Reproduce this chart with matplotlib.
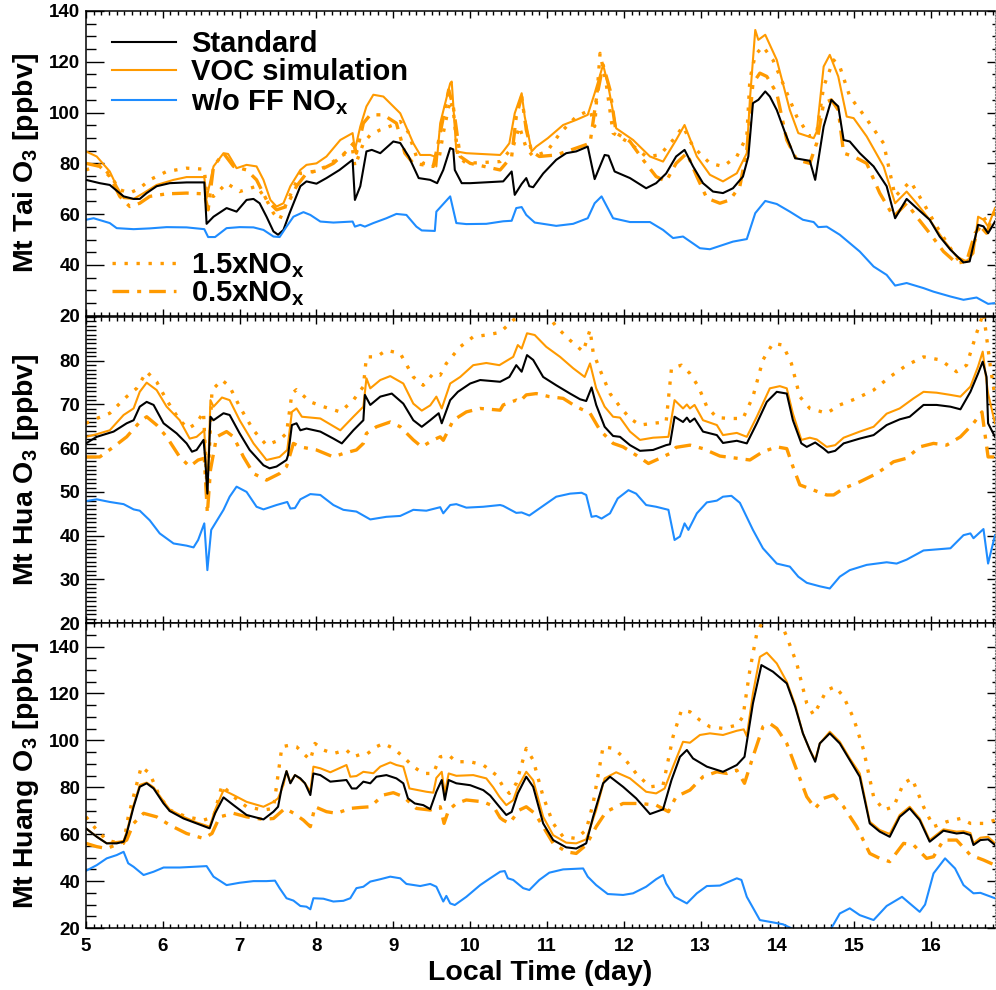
import matplotlib
matplotlib.use("Agg")
from matplotlib import pyplot as plt
from matplotlib.ticker import MultipleLocator
import numpy as np

plt.rcParams['font.family'] = ['Liberation Sans', 'DejaVu Sans']
plt.rcParams['font.weight'] = 'bold'
plt.rcParams['mathtext.fontset'] = 'custom'
plt.rcParams['mathtext.rm'] = 'Liberation Sans'
plt.rcParams['mathtext.bf'] = 'Liberation Sans:bold'

ORANGE = '#FF9A00'
BLUE = '#1E8CFF'

# ---- data: (day, O3 ppbv) ----
# Mt Tai
tai_std = [(5.00,73.5),(5.18,72.2),(5.31,71.5),(5.49,67.0),(5.62,66.0),(5.70,66.0),(5.79,68.3),(5.92,71.0),(6.09,72.2),(6.31,72.5),(6.54,72.5),(6.57,56.2),(6.66,59.0),(6.83,62.4),(6.96,61.0),(7.09,65.6),(7.18,66.0),(7.26,64.3),(7.35,59.0),(7.44,53.2),(7.50,51.9),(7.57,53.8),(7.65,60.4),(7.79,71.0),(7.87,72.9),(8.00,72.0),(8.13,74.2),(8.30,77.4),(8.47,81.4),(8.50,65.6),(8.57,71.0),(8.65,84.7),(8.72,85.3),(8.83,84.0),(9.00,88.6),(9.09,88.0),(9.20,82.7),(9.33,74.2),(9.48,73.5),(9.57,72.2),(9.65,77.4),(9.74,86.0),(9.78,85.5),(9.80,77.4),(9.89,72.2),(10.0,72.2),(10.43,72.9),(10.54,76.8),(10.58,67.6),(10.67,71.9),(10.73,74.2),(10.77,71.0),(10.82,70.6),(10.95,76.0),(11.12,81.4),(11.25,84.0),(11.38,84.7),(11.53,86.6),(11.62,73.8),(11.75,83.3),(11.80,83.0),(11.88,76.8),(12.08,74.2),(12.29,70.2),(12.42,72.2),(12.55,76.0),(12.68,82.7),(12.79,85.3),(12.90,78.8),(13.03,72.2),(13.16,68.9),(13.29,68.3),(13.42,70.2),(13.55,74.8),(13.62,82.7),(13.68,103.7),(13.75,105.0),(13.84,108.3),(13.90,106.3),(13.99,101.0),(14.10,91.9),(14.23,82.0),(14.42,81.0),(14.49,73.5),(14.60,94.5),(14.70,105.0),(14.79,102.4),(14.86,89.2),(14.94,88.6),(15.07,84.0),(15.25,78.8),(15.42,71.0),(15.53,58.4),(15.68,66.0),(15.81,62.4),(15.98,57.8),(16.11,51.2),(16.25,46.0),(16.42,41.0),(16.50,41.4),(16.61,55.8),(16.68,55.2),(16.74,52.5),(16.83,57.1)]
tai_voc = [(5.00,84.7),(5.14,82.7),(5.31,76.8),(5.40,71.0),(5.49,66.3),(5.62,66.0),(5.75,68.3),(5.92,71.5),(6.14,73.5),(6.31,74.6),(6.54,74.6),(6.57,66.3),(6.66,78.8),(6.79,84.0),(6.85,83.7),(6.96,78.1),(7.09,79.4),(7.22,78.8),(7.31,73.5),(7.40,65.6),(7.48,63.0),(7.57,64.3),(7.66,71.0),(7.79,77.4),(7.87,79.4),(8.00,80.0),(8.13,82.7),(8.31,89.2),(8.47,91.9),(8.50,85.3),(8.57,94.5),(8.65,102.4),(8.74,107.0),(8.87,106.3),(9.09,99.7),(9.26,87.9),(9.35,83.3),(9.48,83.3),(9.54,82.7),(9.56,78.8),(9.61,95.8),(9.74,111.5),(9.76,112.2),(9.82,84.7),(9.95,84.0),(10.39,83.3),(10.43,84.7),(10.51,87.9),(10.58,99.7),(10.67,107.6),(10.71,98.4),(10.80,84.7),(10.86,86.6),(11.01,89.9),(11.21,95.1),(11.38,97.1),(11.53,99.1),(11.62,107.6),(11.73,118.8),(11.79,111.5),(11.90,93.8),(12.12,89.2),(12.34,82.7),(12.51,80.7),(12.68,89.2),(12.79,95.1),(12.95,82.7),(13.12,75.5),(13.29,72.9),(13.47,76.1),(13.60,84.0),(13.64,105.0),(13.71,132.5),(13.75,128.6),(13.84,130.6),(13.99,120.7),(14.16,101.0),(14.27,91.9),(14.47,89.9),(14.51,92.5),(14.60,118.1),(14.68,122.7),(14.79,114.2),(14.90,98.4),(14.99,97.8),(15.16,90.6),(15.38,78.8),(15.53,64.3),(15.68,68.9),(15.81,64.3),(15.98,57.8),(16.16,49.9),(16.33,43.3),(16.46,41.4),(16.55,44.6),(16.61,59.0),(16.68,57.8),(16.74,55.2),(16.83,62.4)]
tai_hi = [(5.00,77.4),(5.18,79.4),(5.31,75.5),(5.44,69.6),(5.57,68.3),(5.70,70.2),(5.83,73.5),(6.05,76.8),(6.31,78.1),(6.54,77.7),(6.57,68.3),(6.66,67.0),(6.83,72.2),(7.00,68.9),(7.22,71.0),(7.35,65.6),(7.44,60.4),(7.52,57.8),(7.61,64.3),(7.79,76.1),(7.96,76.8),(8.13,78.8),(8.31,82.7),(8.47,85.3),(8.50,78.8),(8.61,87.9),(8.70,91.2),(8.83,93.2),(9.00,95.1),(9.09,96.5),(9.19,92.5),(9.30,82.7),(9.39,80.0),(9.52,79.4),(9.59,81.0),(9.65,91.9),(9.74,105.0),(9.78,101.0),(9.84,82.7),(9.95,80.0),(10.39,80.7),(10.43,82.0),(10.56,86.6),(10.64,94.5),(10.73,86.0),(10.82,82.7),(11.00,84.7),(11.17,91.9),(11.38,98.4),(11.56,101.0),(11.62,94.5),(11.69,123.3),(11.77,111.5),(11.86,91.9),(12.08,87.9),(12.29,82.7),(12.47,83.3),(12.64,89.2),(12.77,94.5),(12.90,86.6),(13.12,80.0),(13.29,78.8),(13.47,82.7),(13.60,90.6),(13.64,113.0),(13.71,122.7),(13.81,126.0),(13.94,120.7),(14.07,111.5),(14.25,98.4),(14.42,90.6),(14.51,92.0),(14.60,110.2),(14.73,120.7),(14.81,118.1),(14.94,106.3),(15.12,99.1),(15.38,87.9),(15.53,67.0),(15.73,72.9),(15.90,64.3),(16.07,55.2),(16.25,46.6),(16.38,40.7),(16.51,42.0),(16.59,52.5),(16.68,57.8),(16.83,60.4)]
tai_lo = [(5.00,80.0),(5.18,78.8),(5.31,74.8),(5.44,67.0),(5.57,63.0),(5.70,64.3),(5.83,67.0),(6.05,68.0),(6.31,68.3),(6.54,68.0),(6.59,61.7),(6.66,78.8),(6.79,84.0),(6.92,78.8),(7.09,77.4),(7.22,73.5),(7.35,65.6),(7.48,61.7),(7.61,63.0),(7.74,71.0),(7.87,76.1),(8.05,77.4),(8.22,80.0),(8.39,84.7),(8.48,87.9),(8.52,84.0),(8.61,95.8),(8.70,99.1),(8.87,99.1),(9.04,95.8),(9.15,84.0),(9.26,80.0),(9.39,79.4),(9.52,78.8),(9.61,91.9),(9.72,108.9),(9.78,102.4),(9.87,82.7),(10.00,80.0),(10.39,77.4),(10.43,78.8),(10.54,82.7),(10.60,98.4),(10.67,106.3),(10.73,93.2),(10.80,84.7),(10.90,82.7),(11.12,83.3),(11.38,86.0),(11.56,87.9),(11.64,105.0),(11.73,118.8),(11.82,108.9),(11.90,91.9),(12.08,88.6),(12.25,81.4),(12.42,74.8),(12.55,72.9),(12.68,80.0),(12.82,84.0),(12.95,74.8),(13.08,66.3),(13.25,64.3),(13.38,65.6),(13.51,71.0),(13.60,85.3),(13.68,111.5),(13.77,115.5),(13.86,114.2),(13.99,107.6),(14.12,89.2),(14.25,81.4),(14.42,80.0),(14.51,88.0),(14.60,103.7),(14.70,105.0),(14.79,101.0),(14.86,84.0),(14.99,82.7),(15.16,80.0),(15.33,68.3),(15.51,59.0),(15.68,64.3),(15.81,59.0),(15.98,52.5),(16.16,45.3),(16.33,40.7),(16.46,41.4),(16.57,52.5),(16.64,55.2),(16.72,52.5),(16.83,61.7)]
tai_noff = [(5.00,57.8),(5.10,58.4),(5.31,56.5),(5.40,54.5),(5.62,54.1),(5.83,54.4),(6.05,54.9),(6.31,54.8),(6.54,54.1),(6.59,51.0),(6.68,51.0),(6.83,54.5),(7.00,54.9),(7.18,54.8),(7.31,53.8),(7.44,51.2),(7.52,51.0),(7.61,55.1),(7.70,59.0),(7.83,60.8),(7.92,59.7),(8.05,57.1),(8.22,56.7),(8.47,57.1),(8.50,55.1),(8.57,55.8),(8.63,55.1),(8.74,56.5),(8.91,58.4),(9.04,60.1),(9.17,59.7),(9.30,55.1),(9.37,53.6),(9.54,53.4),(9.56,61.0),(9.74,67.0),(9.82,56.5),(9.95,56.1),(10.21,56.2),(10.43,57.2),(10.54,57.4),(10.60,62.4),(10.67,62.8),(10.73,59.7),(10.84,56.7),(11.12,55.4),(11.34,56.2),(11.53,58.4),(11.62,64.3),(11.71,67.0),(11.86,58.4),(12.08,56.9),(12.34,56.9),(12.51,53.8),(12.64,50.6),(12.77,51.2),(12.99,46.6),(13.12,46.2),(13.42,49.2),(13.60,50.2),(13.71,60.4),(13.84,65.2),(13.99,64.0),(14.16,61.0),(14.33,57.8),(14.47,56.9),(14.53,54.9),(14.64,55.1),(14.81,51.9),(14.94,48.6),(15.07,45.3),(15.25,39.4),(15.42,36.1),(15.53,31.9),(15.68,32.9),(15.90,30.9),(16.03,29.5),(16.25,27.6),(16.42,26.3),(16.59,27.2),(16.74,24.7),(16.83,25.0)]

# Mt Hua
hua_std = [(5.00,61.1),(5.14,62.6),(5.36,63.8),(5.53,65.7),(5.62,66.4),(5.70,69.5),(5.79,70.6),(5.88,69.9),(6.01,65.7),(6.18,63.4),(6.31,61.1),(6.38,59.2),(6.44,59.6),(6.53,61.9),(6.55,58.0),(6.58,49.6),(6.62,67.2),(6.66,66.4),(6.79,68.0),(6.87,67.6),(7.00,63.4),(7.13,59.6),(7.31,56.1),(7.39,55.4),(7.48,55.8),(7.61,57.3),(7.63,58.4),(7.68,65.3),(7.74,65.7),(7.79,64.1),(7.87,64.5),(8.05,63.8),(8.22,62.2),(8.33,61.1),(8.48,64.1),(8.61,66.4),(8.63,72.2),(8.70,69.9),(8.83,71.8),(8.98,72.5),(9.13,70.2),(9.26,66.4),(9.37,64.9),(9.48,66.4),(9.59,68.0),(9.63,65.7),(9.74,71.0),(9.84,72.9),(10.00,74.8),(10.13,75.6),(10.39,75.2),(10.51,76.3),(10.60,79.0),(10.67,77.5),(10.74,81.3),(10.82,80.2),(10.95,76.3),(11.12,74.4),(11.30,72.5),(11.43,71.2),(11.51,70.8),(11.58,73.9),(11.64,69.9),(11.75,64.9),(11.86,62.8),(11.95,62.6),(12.08,60.7),(12.21,59.4),(12.38,59.6),(12.55,60.7),(12.60,60.9),(12.66,67.2),(12.77,66.0),(12.82,67.0),(12.86,66.0),(12.92,66.8),(13.03,63.8),(13.21,63.0),(13.29,61.2),(13.47,61.7),(13.60,61.1),(13.73,65.7),(13.86,70.6),(13.99,72.9),(14.12,72.5),(14.20,66.4),(14.31,61.1),(14.38,60.3),(14.49,61.3),(14.60,59.9),(14.66,59.0),(14.75,59.4),(14.86,61.1),(15.07,62.2),(15.25,63.0),(15.42,65.3),(15.59,66.6),(15.72,67.2),(15.90,69.9),(16.07,69.9),(16.25,69.5),(16.38,68.9),(16.51,72.9),(16.61,77.1),(16.67,79.8),(16.72,76.3),(16.74,65.7),(16.83,62.6)]
hua_voc = [(5.00,62.6),(5.14,63.2),(5.31,64.1),(5.49,67.6),(5.62,69.1),(5.70,72.9),(5.79,75.0),(5.92,73.3),(6.05,69.5),(6.22,66.4),(6.35,62.2),(6.44,62.6),(6.54,64.1),(6.58,49.6),(6.62,71.0),(6.66,69.5),(6.77,71.6),(6.87,71.0),(7.00,66.4),(7.18,61.1),(7.35,57.3),(7.52,58.0),(7.62,59.6),(7.68,68.3),(7.74,69.1),(7.81,67.2),(8.05,66.8),(8.31,64.1),(8.48,67.2),(8.61,69.5),(8.65,76.0),(8.70,73.7),(8.83,75.6),(8.96,76.5),(9.13,74.8),(9.26,70.2),(9.37,68.6),(9.48,69.8),(9.56,71.8),(9.63,69.1),(9.74,74.8),(9.87,76.3),(10.04,79.0),(10.21,79.5),(10.38,79.0),(10.56,80.9),(10.62,83.6),(10.67,82.8),(10.74,86.3),(10.84,85.9),(10.99,83.2),(11.17,80.9),(11.34,78.3),(11.49,76.3),(11.56,79.4),(11.64,73.7),(11.75,69.5),(11.86,67.2),(11.95,67.0),(12.08,63.8),(12.21,61.9),(12.38,62.4),(12.58,62.6),(12.66,71.0),(12.77,69.1),(12.82,70.0),(12.86,69.1),(12.92,69.9),(13.03,66.4),(13.21,65.3),(13.29,63.0),(13.47,63.5),(13.60,62.6),(13.73,67.2),(13.90,73.7),(14.03,74.2),(14.12,73.7),(14.20,67.9),(14.31,61.9),(14.42,62.4),(14.51,62.0),(14.64,60.3),(14.75,60.7),(14.86,62.4),(15.07,63.8),(15.25,64.9),(15.42,67.9),(15.59,69.1),(15.77,71.4),(15.90,72.9),(16.07,72.7),(16.25,72.2),(16.38,71.8),(16.51,74.1),(16.61,78.7),(16.67,82.1),(16.74,72.5),(16.83,65.7)]
hua_hi = [(5.00,65.7),(5.14,66.8),(5.31,68.0),(5.53,71.8),(5.66,73.7),(5.79,77.5),(5.92,75.2),(6.05,71.0),(6.22,66.4),(6.33,64.5),(6.44,65.7),(6.53,68.3),(6.58,48.9),(6.64,73.3),(6.77,75.6),(6.87,74.1),(7.00,69.5),(7.18,64.1),(7.35,60.7),(7.52,61.9),(7.61,63.4),(7.68,72.5),(7.74,73.4),(7.92,70.6),(8.09,69.5),(8.31,68.3),(8.48,71.0),(8.61,74.1),(8.65,80.9),(8.78,80.9),(8.91,82.4),(9.09,81.7),(9.26,76.3),(9.39,74.4),(9.52,77.1),(9.61,76.7),(9.69,79.4),(9.87,83.2),(10.04,85.5),(10.21,85.9),(10.39,86.5),(10.56,89.3),(10.70,91.0),(10.99,91.0),(11.12,87.8),(11.30,84.7),(11.47,82.1),(11.56,87.1),(11.60,82.0),(11.69,77.9),(11.82,72.5),(11.95,69.5),(12.08,66.8),(12.21,65.3),(12.38,65.7),(12.55,66.0),(12.62,78.3),(12.75,79.0),(12.86,77.1),(12.97,74.1),(13.08,69.5),(13.21,67.0),(13.38,66.8),(13.55,66.8),(13.68,71.8),(13.81,80.2),(13.94,84.0),(14.07,83.6),(14.18,79.4),(14.29,71.8),(14.42,69.1),(14.64,68.0),(14.81,69.9),(15.03,71.4),(15.25,73.3),(15.46,76.3),(15.68,79.0),(15.90,80.9),(16.12,80.2),(16.33,77.5),(16.46,79.0),(16.59,86.3),(16.68,91.0),(16.77,78.6),(16.83,71.8)]
hua_lo = [(5.00,58.0),(5.18,58.0),(5.36,60.3),(5.53,62.6),(5.70,66.0),(5.79,67.2),(5.92,65.3),(6.05,62.6),(6.22,58.0),(6.35,55.8),(6.46,57.3),(6.54,57.7),(6.58,45.1),(6.62,55.0),(6.70,62.6),(6.83,63.8),(6.92,62.6),(7.05,58.0),(7.18,54.2),(7.35,52.7),(7.52,54.2),(7.61,55.8),(7.70,61.1),(7.79,60.3),(8.00,59.6),(8.22,58.0),(8.35,58.8),(8.52,59.6),(8.61,61.1),(8.65,63.4),(8.78,64.9),(8.96,66.0),(9.09,64.9),(9.26,61.9),(9.37,60.3),(9.52,61.9),(9.61,62.6),(9.65,61.8),(9.78,66.4),(9.95,68.3),(10.13,69.1),(10.39,68.7),(10.43,69.9),(10.60,71.0),(10.64,70.6),(10.73,72.2),(10.86,72.5),(11.03,71.8),(11.21,71.4),(11.38,69.5),(11.56,68.0),(11.69,64.1),(11.86,61.1),(11.99,60.3),(12.16,58.4),(12.32,56.5),(12.47,57.7),(12.60,58.8),(12.68,60.2),(12.86,60.7),(13.03,59.9),(13.25,58.2),(13.47,57.7),(13.64,57.3),(13.81,59.2),(13.99,60.3),(14.12,59.9),(14.20,55.8),(14.29,51.6),(14.47,50.4),(14.64,49.3),(14.73,49.3),(14.86,50.8),(15.07,52.3),(15.29,54.2),(15.51,56.9),(15.68,57.7),(15.85,60.3),(16.03,61.1),(16.20,60.7),(16.38,62.6),(16.55,65.7),(16.66,68.3),(16.74,58.0),(16.83,58.0)]
hua_noff = [(5.00,47.9),(5.14,48.3),(5.31,47.7),(5.49,47.2),(5.62,46.0),(5.70,45.7),(5.83,43.5),(5.96,40.5),(6.14,38.2),(6.31,37.7),(6.40,37.3),(6.46,39.0),(6.54,42.8),(6.58,32.1),(6.63,41.3),(6.79,45.9),(6.87,48.9),(6.96,51.2),(7.09,50.0),(7.22,46.6),(7.31,46.0),(7.48,47.0),(7.62,47.7),(7.66,46.2),(7.72,46.3),(7.79,48.3),(7.92,49.5),(8.05,49.3),(8.22,47.0),(8.35,45.9),(8.52,45.5),(8.70,43.7),(8.91,44.3),(9.09,44.5),(9.26,45.9),(9.43,45.7),(9.61,46.5),(9.65,45.1),(9.74,47.0),(9.82,47.2),(9.95,46.4),(10.17,46.6),(10.39,47.0),(10.43,46.8),(10.60,45.2),(10.67,45.3),(10.77,44.6),(10.90,46.2),(11.12,48.9),(11.30,49.6),(11.45,49.8),(11.51,49.3),(11.58,44.3),(11.64,44.5),(11.71,43.9),(11.82,45.1),(11.92,48.5),(12.06,50.4),(12.16,49.6),(12.29,47.0),(12.42,46.6),(12.58,45.9),(12.66,39.0),(12.73,39.8),(12.79,42.8),(12.84,41.3),(12.95,45.1),(13.08,47.6),(13.21,48.0),(13.29,48.9),(13.40,49.1),(13.51,47.5),(13.68,41.3),(13.81,37.1),(13.99,33.6),(14.16,32.9),(14.27,30.6),(14.38,29.2),(14.55,28.4),(14.68,27.9),(14.81,30.6),(14.94,32.1),(15.16,33.3),(15.42,33.9),(15.55,33.6),(15.68,34.5),(15.90,36.6),(16.25,37.1),(16.42,40.1),(16.51,40.5),(16.55,39.4),(16.68,41.5),(16.74,33.6),(16.83,40.1)]

# Mt Huang
huang_std = [(5.00,62.5),(5.14,58.9),(5.27,56.1),(5.40,56.1),(5.49,56.8),(5.53,60.3),(5.62,71.7),(5.70,80.2),(5.79,81.7),(5.88,79.5),(6.01,73.1),(6.09,69.9),(6.27,66.7),(6.44,64.6),(6.61,62.5),(6.68,68.9),(6.79,75.7),(6.92,72.4),(7.09,68.2),(7.31,66.3),(7.44,69.6),(7.50,71.7),(7.55,80.2),(7.61,86.9),(7.66,81.7),(7.72,85.2),(7.79,83.8),(7.85,81.7),(7.92,76.7),(7.96,85.9),(8.05,85.2),(8.18,82.4),(8.39,83.1),(8.46,79.5),(8.52,79.5),(8.61,82.4),(8.70,81.7),(8.78,84.5),(8.91,85.2),(9.04,83.8),(9.13,81.7),(9.19,75.3),(9.28,73.1),(9.39,72.4),(9.48,70.7),(9.56,78.1),(9.63,83.1),(9.67,74.6),(9.72,83.1),(9.82,81.7),(10.00,80.9),(10.17,78.8),(10.26,76.5),(10.38,71.7),(10.47,68.2),(10.54,69.5),(10.62,77.4),(10.73,84.5),(10.82,80.2),(10.95,64.6),(11.08,57.5),(11.25,54.4),(11.38,53.9),(11.51,56.1),(11.60,67.4),(11.73,81.7),(11.82,84.5),(11.99,80.2),(12.16,75.3),(12.34,68.6),(12.51,70.6),(12.62,83.1),(12.73,93.0),(12.82,95.9),(12.90,92.3),(13.08,88.8),(13.29,86.6),(13.47,89.5),(13.57,93.0),(13.68,115.8),(13.79,132.1),(13.94,129.3),(14.12,124.3),(14.23,114.3),(14.33,103.0),(14.42,95.9),(14.49,90.9),(14.55,98.7),(14.68,103.0),(14.81,98.7),(14.94,91.6),(15.07,84.5),(15.20,64.6),(15.33,61.1),(15.46,58.9),(15.59,67.4),(15.72,71.0),(15.85,66.0),(15.98,56.8),(16.16,61.5),(16.33,60.3),(16.42,60.6),(16.51,59.6),(16.55,55.4),(16.64,57.5),(16.74,57.8),(16.83,55.4)]
huang_voc = [(5.00,62.5),(5.14,59.0),(5.27,56.1),(5.49,57.1),(5.53,61.0),(5.62,72.4),(5.70,81.0),(5.79,82.0),(5.88,80.0),(6.01,74.0),(6.09,70.5),(6.27,67.4),(6.44,65.0),(6.61,63.2),(6.68,70.3),(6.79,78.8),(6.92,76.7),(7.09,73.8),(7.31,71.7),(7.44,73.8),(7.50,75.3),(7.57,81.0),(7.61,86.9),(7.66,82.0),(7.72,85.2),(7.79,83.5),(7.85,81.7),(7.92,78.1),(7.96,88.8),(8.05,88.1),(8.18,86.4),(8.39,89.5),(8.44,84.5),(8.52,84.8),(8.61,86.6),(8.74,86.0),(8.83,88.8),(8.96,90.6),(9.04,89.5),(9.13,88.8),(9.21,79.5),(9.43,78.1),(9.52,77.7),(9.56,84.0),(9.63,86.6),(9.67,77.4),(9.72,85.9),(9.82,84.9),(10.04,85.2),(10.21,83.8),(10.30,80.0),(10.38,76.0),(10.47,72.4),(10.56,74.5),(10.62,80.0),(10.73,86.6),(10.82,83.0),(10.95,67.4),(11.08,59.6),(11.25,56.4),(11.38,56.1),(11.51,57.8),(11.64,70.3),(11.75,83.8),(11.90,86.4),(12.08,83.8),(12.29,78.1),(12.42,77.4),(12.53,79.5),(12.64,88.8),(12.77,99.4),(12.86,99.0),(12.99,102.3),(13.12,103.0),(13.29,102.3),(13.47,104.1),(13.56,104.7),(13.60,101.8),(13.68,120.0),(13.77,135.6),(13.86,137.4),(13.99,132.8),(14.12,125.0),(14.23,115.1),(14.33,103.0),(14.42,95.9),(14.49,91.6),(14.55,98.7),(14.68,103.7),(14.81,99.4),(14.94,92.3),(15.07,85.9),(15.20,65.3),(15.33,61.8),(15.46,60.1),(15.59,68.2),(15.72,71.7),(15.85,66.7),(15.98,57.5),(16.16,62.1),(16.33,61.1),(16.42,61.3),(16.51,60.5),(16.55,56.1),(16.64,58.5),(16.74,58.9),(16.83,56.1)]
huang_hi = [(5.00,67.4),(5.14,61.8),(5.27,57.5),(5.40,56.4),(5.49,56.1),(5.55,67.4),(5.64,78.8),(5.72,88.8),(5.83,85.9),(5.96,76.0),(6.09,70.3),(6.31,67.4),(6.53,66.0),(6.66,67.4),(6.77,80.9),(6.92,76.0),(7.09,71.7),(7.31,70.3),(7.44,71.0),(7.55,97.3),(7.66,98.0),(7.74,97.3),(7.83,94.4),(7.92,91.6),(7.98,98.7),(8.09,95.9),(8.22,94.4),(8.39,95.9),(8.48,93.0),(8.57,94.0),(8.65,94.0),(8.78,97.3),(8.87,98.7),(9.00,96.6),(9.13,93.0),(9.26,88.8),(9.39,85.9),(9.52,85.9),(9.61,93.0),(9.72,93.7),(9.82,90.9),(10.00,90.9),(10.17,89.5),(10.34,85.2),(10.43,80.2),(10.51,77.4),(10.60,81.7),(10.73,96.6),(10.82,91.6),(10.95,76.0),(11.08,64.6),(11.21,58.9),(11.38,58.2),(11.51,61.8),(11.60,73.1),(11.73,97.3),(11.86,96.6),(11.99,93.0),(12.16,85.9),(12.34,80.2),(12.51,80.9),(12.64,101.6),(12.75,112.9),(12.86,112.2),(12.99,108.6),(13.12,105.8),(13.29,105.1),(13.47,106.5),(13.55,110.1),(13.64,130.0),(13.73,145.6),(13.81,151.0),(14.03,151.0),(14.12,144.2),(14.25,132.8),(14.38,115.8),(14.47,110.8),(14.55,115.8),(14.64,121.4),(14.75,122.9),(14.86,118.6),(14.99,109.4),(15.12,95.9),(15.25,76.0),(15.38,70.3),(15.51,71.7),(15.64,81.7),(15.75,83.8),(15.90,71.7),(16.03,63.2),(16.20,65.3),(16.38,66.7),(16.51,64.6),(16.68,64.6),(16.83,66.0)]
huang_lo = [(5.00,56.1),(5.14,54.7),(5.27,53.9),(5.44,56.1),(5.53,57.5),(5.62,64.6),(5.75,68.9),(5.92,67.4),(6.09,63.9),(6.31,60.3),(6.53,58.2),(6.64,60.3),(6.74,67.4),(6.92,68.9),(7.09,67.4),(7.31,66.3),(7.44,66.7),(7.59,71.0),(7.70,69.0),(7.83,66.0),(7.92,63.2),(7.98,71.7),(8.13,69.6),(8.26,68.9),(8.44,71.0),(8.57,71.4),(8.70,71.7),(8.87,76.7),(9.00,77.7),(9.13,76.0),(9.30,71.0),(9.48,70.3),(9.61,71.7),(9.66,64.6),(9.72,70.3),(9.82,73.1),(9.95,74.6),(10.17,73.8),(10.30,72.0),(10.39,67.0),(10.43,66.0),(10.51,64.6),(10.64,70.3),(10.73,71.7),(10.84,68.9),(10.95,63.2),(11.08,56.1),(11.25,52.5),(11.38,51.8),(11.51,55.4),(11.64,63.2),(11.77,69.6),(11.99,73.1),(12.21,73.1),(12.42,72.4),(12.58,69.6),(12.68,76.0),(12.86,78.8),(13.03,84.5),(13.21,86.6),(13.34,85.9),(13.47,87.3),(13.57,81.7),(13.68,93.0),(13.81,105.8),(13.90,107.2),(13.99,105.1),(14.12,98.7),(14.25,87.3),(14.38,76.0),(14.49,71.0),(14.60,75.3),(14.73,76.7),(14.86,71.7),(15.03,63.2),(15.20,51.8),(15.33,49.7),(15.46,48.3),(15.64,56.1),(15.77,55.4),(15.94,49.7),(16.03,50.4),(16.16,57.5),(16.33,57.5),(16.51,51.1),(16.68,49.0),(16.83,46.8)]
huang_noff = [(5.00,44.4),(5.14,46.8),(5.27,49.7),(5.40,51.1),(5.49,52.5),(5.55,47.6),(5.62,46.1),(5.75,42.6),(5.88,44.0),(6.01,45.8),(6.22,45.8),(6.40,46.1),(6.57,46.4),(6.66,41.9),(6.83,38.3),(7.00,39.3),(7.18,40.0),(7.35,40.0),(7.46,40.2),(7.52,37.0),(7.61,32.7),(7.70,31.7),(7.79,29.4),(7.87,29.1),(7.92,28.0),(7.96,32.7),(8.09,32.5),(8.22,31.3),(8.35,31.6),(8.44,32.7),(8.52,37.0),(8.61,37.6),(8.70,39.8),(8.83,40.8),(8.96,41.9),(9.09,41.2),(9.17,38.8),(9.35,37.9),(9.48,38.8),(9.56,37.6),(9.65,31.3),(9.69,33.7),(9.74,30.5),(9.80,29.8),(9.95,33.3),(10.13,38.3),(10.26,41.2),(10.39,44.0),(10.45,44.3),(10.49,41.2),(10.56,40.5),(10.69,37.0),(10.77,36.2),(10.90,40.5),(11.03,43.6),(11.21,45.0),(11.47,45.4),(11.53,41.9),(11.64,38.3),(11.79,34.5),(11.99,34.1),(12.12,34.8),(12.29,37.6),(12.42,40.8),(12.51,42.6),(12.55,39.0),(12.66,33.3),(12.82,30.5),(12.95,34.8),(13.08,37.9),(13.25,38.1),(13.47,41.2),(13.53,40.5),(13.60,33.3),(13.77,23.4),(13.94,22.4),(14.07,21.6),(14.18,19.9),(14.45,14.0),(14.70,19.9),(14.81,26.2),(14.94,28.4),(15.07,25.5),(15.25,23.4),(15.42,29.4),(15.62,33.3),(15.72,30.5),(15.85,26.9),(15.92,30.0),(16.03,43.3),(16.18,49.7),(16.31,45.4),(16.42,38.3),(16.55,34.8),(16.64,35.0),(16.83,32.7)]

# site, y range, labelled ticks, minor step, series
panels = [
    ("Mt Tai", (20, 140), np.arange(20, 141, 20), 5, tai_std, tai_voc, tai_hi, tai_lo, tai_noff),
    ("Mt Hua", (20, 90), np.arange(20, 81, 10), 1, hua_std, hua_voc, hua_hi, hua_lo, hua_noff),
    ("Mt Huang", (20, 150), np.arange(20, 141, 20), 5, huang_std, huang_voc, huang_hi, huang_lo, huang_noff),
]

DOT = (0, (1, 2.6))
DASHDOT = (0, (5, 2.4, 1.2, 2.4))

fig = plt.figure(figsize=(9.96, 9.9), dpi=100)
boxes = [[0.0863, 0.681, 0.9127, 0.308],
         [0.0863, 0.3707, 0.9127, 0.309],
         [0.0863, 0.0626, 0.9127, 0.308]]


def xy(pairs):
    return [p[0] for p in pairs], [p[1] for p in pairs]


for i, (site, ylim, yt, minor, std, voc, hi, lo, noff) in enumerate(panels):
    ax = fig.add_axes(boxes[i])
    l_hi, = ax.plot(*xy(hi), color=ORANGE, lw=2.4, ls=DOT)
    l_lo, = ax.plot(*xy(lo), color=ORANGE, lw=2.4, ls=DASHDOT)
    l_voc, = ax.plot(*xy(voc), color=ORANGE, lw=1.5)
    l_std, = ax.plot(*xy(std), color='black', lw=1.5)
    l_off, = ax.plot(*xy(noff), color=BLUE, lw=1.5)

    ax.set_xlim(5, 16.83)
    ax.set_ylim(*ylim)
    ax.xaxis.set_major_locator(MultipleLocator(1))
    ax.xaxis.set_minor_locator(MultipleLocator(0.1))
    ax.set_yticks(yt)
    ax.yaxis.set_minor_locator(MultipleLocator(minor))
    ax.tick_params(axis='x', which='major', direction='in', top=True, bottom=True, length=5, width=1)
    ax.tick_params(axis='x', which='minor', direction='in', top=True, bottom=True, length=3, width=1)
    ax.tick_params(axis='y', which='major', direction='in', left=True, right=False, length=13, width=1, labelsize=13.5, pad=4)
    ax.tick_params(axis='y', which='minor', direction='in', left=True, right=False, length=7, width=1)
    # shorter ticks on the right-hand side
    sec = ax.secondary_yaxis('right')
    sec.set_yticks(yt)
    sec.yaxis.set_minor_locator(MultipleLocator(minor))
    sec.tick_params(which='major', direction='in', length=6, width=1, labelright=False)
    sec.tick_params(which='minor', direction='in', length=2.5, width=1)
    sec.spines['right'].set_linestyle(':')
    sec.spines['right'].set_color('0.5')
    ax.spines['right'].set_visible(False)
    for s in ['left', 'top', 'bottom']:
        ax.spines[s].set_linewidth(1.1)

    ax.set_ylabel(site + r' O$_\mathrm{3}$ [ppbv]', fontsize=20.5, fontweight='bold')
    ax.yaxis.set_label_coords(-0.05, 0.5)

    if i < 2:
        ax.tick_params(axis='x', labelbottom=False)
    else:
        ax.tick_params(axis='x', labelsize=13.5, pad=7)
        ax.set_xlabel('Local Time (day)', fontsize=20.5, fontweight='bold', labelpad=4)

    if i == 0:
        leg1 = ax.legend([l_std, l_voc, l_off],
                         ['Standard', 'VOC simulation', r'w/o FF NO$_\mathbf{x}$'],
                         loc='upper left', bbox_to_anchor=(0.029, 0.936), frameon=False,
                         fontsize=21, handlelength=2.2, handletextpad=0.5,
                         labelspacing=0.0, borderpad=0, borderaxespad=0)
        ax.add_artist(leg1)
        ax.legend([l_hi, l_lo], [r'1.5xNO$_\mathbf{x}$', r'0.5xNO$_\mathbf{x}$'],
                  loc='upper left', bbox_to_anchor=(0.029, 0.213), frameon=False,
                  fontsize=21, handlelength=2.2, handletextpad=0.5,
                  labelspacing=0.0, borderpad=0, borderaxespad=0)

fig.savefig('out.png', dpi=100)
